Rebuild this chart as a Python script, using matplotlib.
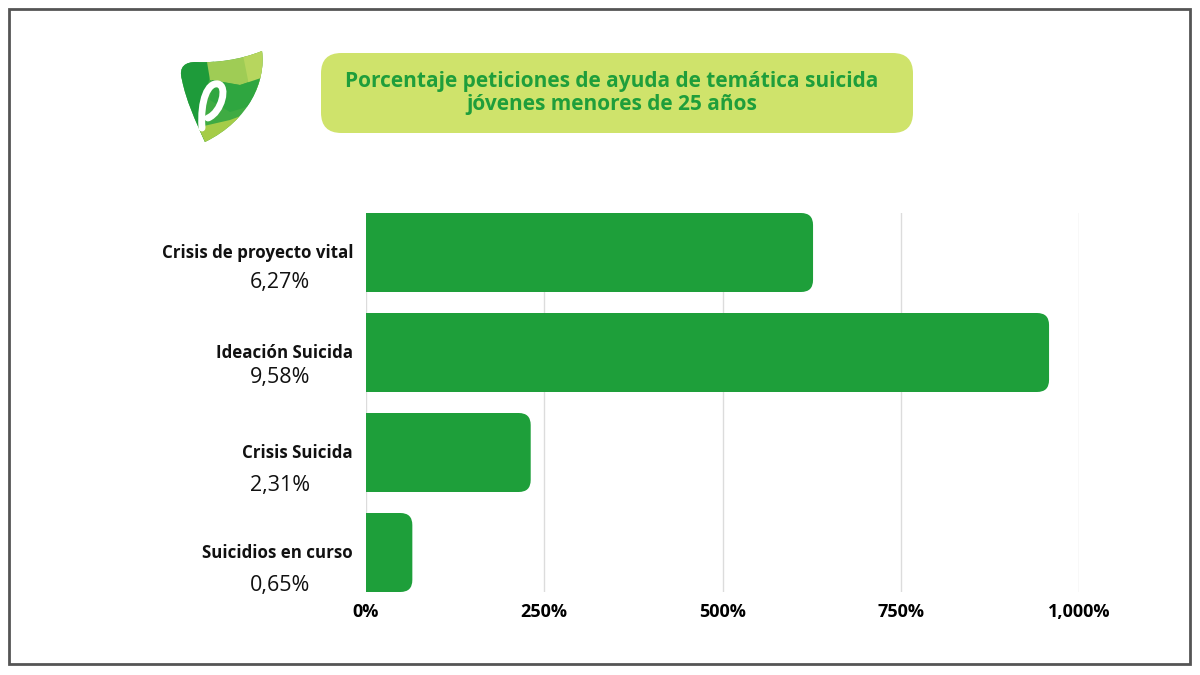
import matplotlib
matplotlib.use("Agg")
import matplotlib.pyplot as plt
from matplotlib import font_manager
from matplotlib.patches import FancyBboxPatch, Polygon, Rectangle, PathPatch
from matplotlib.path import Path

# data
categories = ["Crisis de proyecto vital", "Ideación Suicida", "Crisis Suicida", "Suicidios en curso"]
values = [6.27, 9.58, 2.31, 0.65]
value_labels = ["6,27%", "9,58%", "2,31%", "0,65%"]
tick_values = [0, 2.5, 5, 7.5, 10]
tick_labels = ["0%", "250%", "500%", "750%", "1,000%"]
title = "Porcentaje peticiones de ayuda de temática suicida\njóvenes menores de 25 años"

BAR_GREEN = "#1e9f3a"
TITLE_GREEN = "#1f9e3b"
BOX_LIME = "#cfe36b"

installed = {f.name for f in font_manager.fontManager.ttflist}
body_font = "Open Sans" if "Open Sans" in installed else "DejaVu Sans"
plt.rcParams["font.family"] = [body_font, "DejaVu Sans"]

W, H = 1200, 675
fig = plt.figure(figsize=(12, 6.75), dpi=100)
fig.patch.set_facecolor("white")


def px(x, y):
    return (x / W, 1 - y / H)


# outer frame
fig.patches.append(Rectangle(px(9, 664), 1181 / W, 655 / H, transform=fig.transFigure,
                             fill=False, edgecolor="#555555", linewidth=2))

# title box
bx0, by0 = px(321, 133)
fig.patches.append(FancyBboxPatch((bx0, by0), 592 / W, 80 / H, transform=fig.transFigure,
                                  boxstyle="round,pad=0,rounding_size=0.017",
                                  mutation_aspect=W / H, facecolor=BOX_LIME, edgecolor="none"))
fig.text(*px(612, 93), title, ha="center", va="center", color=TITLE_GREEN,
         fontsize=15, fontweight="bold", linespacing=1.1)

# logo (rough sketch of the heart-shaped mark)
outline_path = Path(
    [px(182, 80), px(178, 66), px(186, 62), px(196, 62),
     px(215, 63), px(240, 60), px(262, 51),
     px(266, 80), px(250, 120), px(205, 142),
     px(195, 120), px(186, 100), px(182, 80)],
    [Path.MOVETO, Path.CURVE4, Path.CURVE4, Path.CURVE4,
     Path.CURVE4, Path.CURVE4, Path.CURVE4,
     Path.CURVE4, Path.CURVE4, Path.CURVE4,
     Path.CURVE4, Path.CURVE4, Path.CURVE4])
outline = PathPatch(outline_path, transform=fig.transFigure, facecolor="#3fab43", edgecolor="none")
fig.patches.append(outline)
facets = [
    ([(170, 55), (215, 58), (205, 95), (205, 150), (170, 150)], "#1e9b3a"),
    ([(205, 50), (270, 40), (270, 75), (240, 85), (210, 80)], "#9fcc55"),
    ([(240, 40), (270, 40), (270, 95), (250, 90)], "#b7d65e"),
    ([(212, 80), (240, 85), (270, 75), (270, 100), (230, 112), (210, 100)], "#2fa640"),
    ([(195, 128), (230, 120), (270, 105), (270, 160), (195, 160)], "#a5cc48"),
]
for pts, c in facets:
    p = Polygon([px(*q) for q in pts], closed=True, transform=fig.transFigure,
                facecolor=c, edgecolor="none")
    p.set_clip_path(outline)
    fig.patches.append(p)
e_path = Path([px(202, 128), px(200, 100), px(208, 82), px(218, 84),
               px(228, 86), px(222, 112), px(208, 118)],
              [Path.MOVETO, Path.CURVE4, Path.CURVE4, Path.CURVE4,
               Path.CURVE4, Path.CURVE4, Path.CURVE4])
fig.patches.append(PathPatch(e_path, transform=fig.transFigure, facecolor="none",
                             edgecolor="white", linewidth=5, capstyle="round"))

# chart axes
ax = fig.add_axes([366 / W, 1 - 592 / H, (1079 - 366) / W, (592 - 213) / H])
ax.set_xlim(0, 10)
ax.set_ylim(len(categories) - 0.5 - 0.105, -0.5 + 0.105)
ax.set_facecolor("none")
for s in ax.spines.values():
    s.set_visible(False)

ax.set_xticks(tick_values)
ax.set_xticklabels(tick_labels, fontsize=13, fontweight="bold")
ax.tick_params(axis="x", length=0, pad=8)
ax.set_yticks([])
ax.grid(axis="x", color="#dcdcdc", linewidth=1)
ax.set_axisbelow(True)

bar_h = 0.79
radius_px = 12
x_per_px = 10 / (1079 - 366)
y_per_px = 1 / 100
r = radius_px * x_per_px
aspect = (radius_px * y_per_px) / r
positions = list(range(len(categories)))

ax.barh(positions, [v - r for v in values], height=bar_h, color=BAR_GREEN, zorder=2)
for y, v in zip(positions, values):
    ax.add_patch(FancyBboxPatch((0, y - bar_h / 2), v, bar_h,
                                boxstyle=f"round,pad=0,rounding_size={r}",
                                mutation_aspect=aspect, facecolor=BAR_GREEN,
                                edgecolor="none", zorder=2))

value_offsets = [30, 25, 33, 33]
for y, cat, lab, off in zip(positions, categories, value_labels, value_offsets):
    ax.annotate(cat, xy=(0, y), xycoords="data", xytext=(-13, 0), textcoords="offset pixels",
                ha="right", va="center", fontsize=12.2, fontweight="bold", color="#111111")
    ax.annotate(lab, xy=(0, y), xycoords="data", xytext=(-86, -off), textcoords="offset pixels",
                ha="center", va="center", fontsize=15.5, fontweight="medium", color="#111111")

fig.savefig("out.png", dpi=100)
